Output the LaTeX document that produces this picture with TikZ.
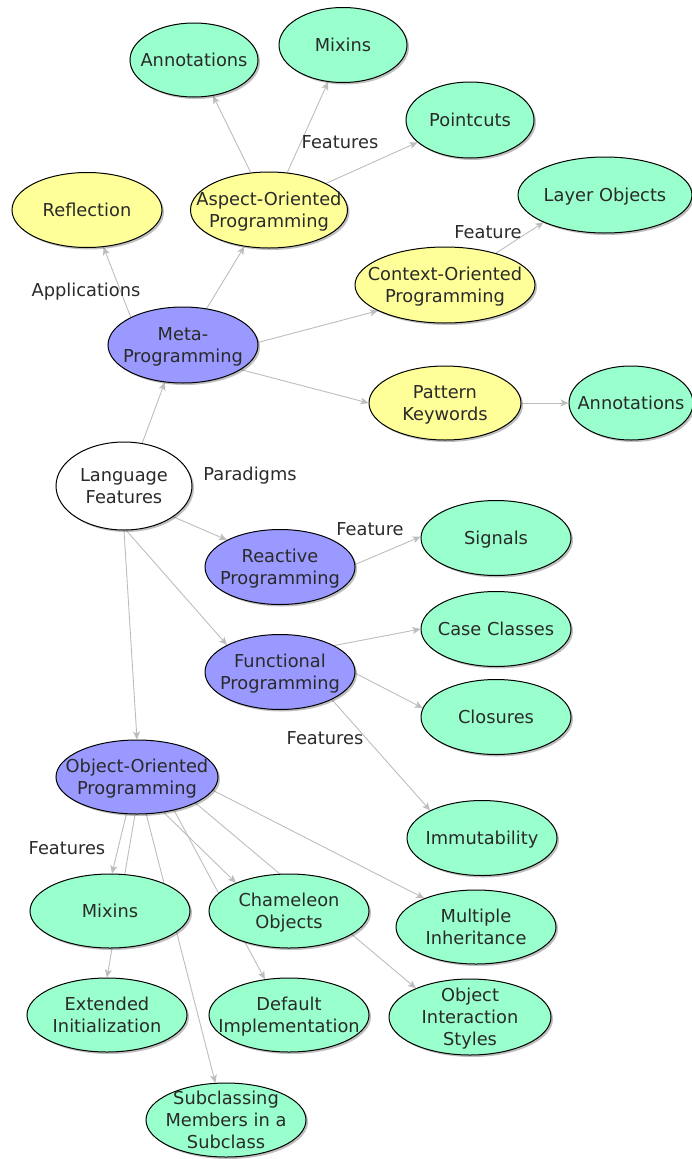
\documentclass[tikz,border=0pt]{standalone}
\usepackage{fontspec}
\setmainfont{DejaVu Sans}
\usetikzlibrary{shapes.geometric,arrows.meta,shadows,backgrounds}
\definecolor{cgreen}{HTML}{99FFCC}
\definecolor{cyellow}{HTML}{FFFF99}
\definecolor{cpurple}{HTML}{9999FF}
\definecolor{cedge}{HTML}{BDBDBD}
\definecolor{ctxt}{HTML}{2A2A2A}
\newcommand{\nodetxt}[1]{\smash{\makebox[0pt]{\raisebox{-6pt}{\begin{tabular}{@{}c@{}}#1\end{tabular}}}}}
\tikzset{
  concept/.style={ellipse, draw=black, line width=1pt, inner sep=0pt, text=ctxt,
    font=\fontsize{17.8}{22}\selectfont,
    drop shadow={shadow xshift=2pt, shadow yshift=-2pt, opacity=0.25, fill=black}},
  sz/.style 2 args={minimum width=#1pt, minimum height=#2pt},
  gnode/.style={concept, fill=cgreen},
  ynode/.style={concept, fill=cyellow},
  pnode/.style={concept, fill=cpurple},
  wnode/.style={concept, fill=white},
  lbl/.style={inner sep=0pt, text=ctxt, font=\fontsize{17.8}{22}\selectfont},
  edge/.style={draw=cedge, line width=0.9pt, -{Stealth[length=8pt,width=7pt,inset=2pt]}}
}
\begin{document}
\begin{tikzpicture}[x=1pt,y=-1pt]
\useasboundingbox (0,0) rectangle (692,1159);
% nodes
\node[gnode, sz={128}{74}] (annTop) at (194,60) {\nodetxt{Annotations}};
\node[gnode, sz={128}{75}] (mixTop) at (343,45) {\nodetxt{Mixins}};
\node[gnode, sz={128}{76}] (pointcuts) at (470,120) {\nodetxt{Pointcuts}};
\node[ynode, sz={150}{75}] (reflection) at (87,210) {\nodetxt{Reflection}};
\node[ynode, sz={157}{76}] (aop) at (269,210) {\nodetxt{Aspect-Oriented\\Programming}};
\node[gnode, sz={174}{76}] (layer) at (605,195) {\nodetxt{Layer Objects}};
\node[ynode, sz={180}{76}] (cop) at (445,285) {\nodetxt{Context-Oriented\\Programming}};
\node[pnode, sz={150}{76}] (meta) at (183,345) {\nodetxt{Meta-\\Programming}};
\node[ynode, sz={152}{74}] (pattern) at (445,403) {\nodetxt{Pattern\\Keywords}};
\node[gnode, sz={124}{74}] (annRight) at (631,403) {\nodetxt{Annotations}};
\node[wnode, sz={136}{88}] (lf) at (124,486) {\nodetxt{Language\\Features}};
\node[pnode, sz={150}{75}] (reactive) at (280,567) {\nodetxt{Reactive\\Programming}};
\node[gnode, sz={150}{75}] (signals) at (496,538) {\nodetxt{Signals}};
\node[pnode, sz={150}{75}] (functional) at (280,672) {\nodetxt{Functional\\Programming}};
\node[gnode, sz={150}{75}] (caseclasses) at (496,629) {\nodetxt{Case Classes}};
\node[gnode, sz={150}{75}] (closures) at (496,717) {\nodetxt{Closures}};
\node[gnode, sz={150}{75}] (immut) at (482,838) {\nodetxt{Immutability}};
\node[pnode, sz={162}{74}] (oop) at (137,777) {\nodetxt{Object-Oriented\\Programming}};
\node[gnode, sz={160}{74}] (mixLow) at (110,911) {\nodetxt{Mixins}};
\node[gnode, sz={160}{74}] (cham) at (289,911) {\nodetxt{Chameleon\\Objects}};
\node[gnode, sz={160}{74}] (mi) at (476,927) {\nodetxt{Multiple\\Inheritance}};
\node[gnode, sz={160}{74}] (extinit) at (107,1015) {\nodetxt{Extended\\Initialization}};
\node[gnode, sz={160}{74}] (default) at (289,1015) {\nodetxt{Default\\Implementation}};
\node[gnode, sz={162}{76}] (ois) at (470,1017) {\nodetxt{Object\\Interaction\\Styles}};
\node[gnode, sz={160}{74}] (subcl) at (226,1120) {\nodetxt{Subclassing\\Members in a\\Subclass}};
% labels
\node[lbl] (lApp) at (86,292) {Applications};
\node[lbl] (lAopF) at (340,142) {Features};
\node[lbl] (lCopF) at (488,232) {Feature};
\node[lbl] (lPar) at (250,476) {Paradigms};
\node[lbl] (lReaF) at (370,529) {Feature};
\node[lbl] (lFunF) at (325,738) {Features};
\node[lbl] (lOopF) at (67,848) {Features};
% edges
\begin{scope}[on background layer]
\draw[edge] (lf.67.8) -- (meta.244.7);
\draw[edge] (meta.152) -- (reflection.-66.4);
\draw[edge] (meta.57) -- (aop.236);
\draw[edge] (meta.2) -- (cop.201.7);
\draw[edge] (meta.-23.5) -- (pattern.180);
\draw[edge] (lf.-32.2) -- (reactive.153.9);
\draw[edge] (lf.-87) -- (functional.153);
\draw[edge] (lf.-90) -- (oop.90);
\draw[edge] (aop.116) -- (annTop.-62.2);
\draw[edge] (aop.64.6) -- (mixTop.-112.8);
\draw[edge] (aop.25.4) -- (pointcuts.203.9);
\draw[edge] (cop.32.6) -- (layer.204);
\draw[edge] (pattern.0) -- (annRight.180);
\draw[edge] (reactive.2) -- (signals.179);
\draw[edge] (functional.26.2) -- (caseclasses.180);
\draw[edge] (functional.-1) -- (closures.173);
\draw[edge] (functional.-28) -- (immut.152);
\draw[edge] (oop.-106.7) -- (mixLow.87);
\draw[edge] (oop.-93) -- (extinit.90);
\draw[edge] (oop.-76) -- (subcl.106);
\draw[edge] (oop.-53.4) -- (cham.152.7);
\draw[edge] (oop.-42.5) -- (default.124);
\draw[edge] (oop.-24) -- (ois.152.6);
\draw[edge] (oop.-10) -- (mi.151);
\end{scope}
\end{tikzpicture}
\end{document}
